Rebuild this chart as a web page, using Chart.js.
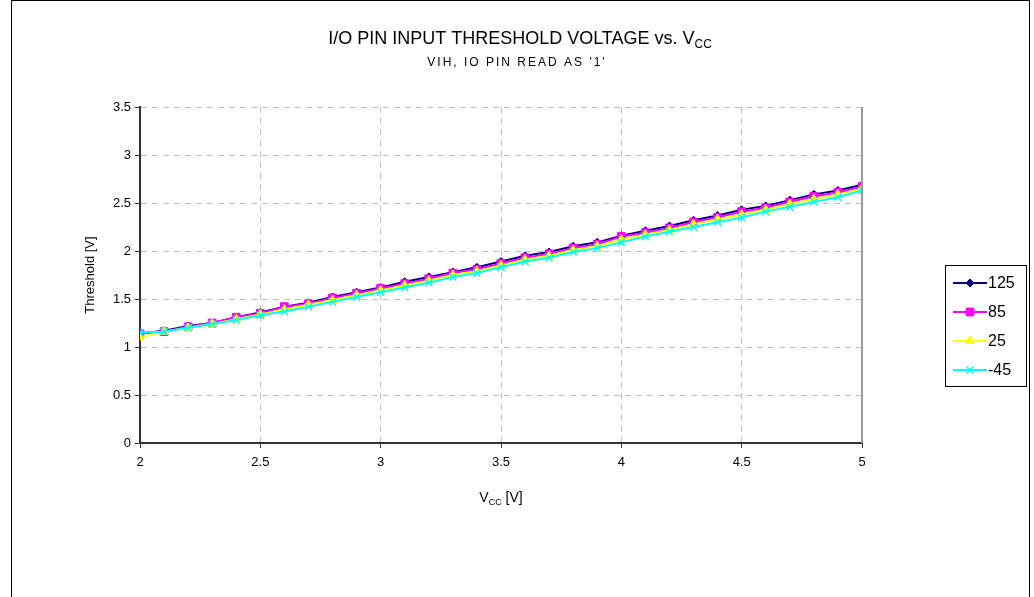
<!DOCTYPE html>
<html>
<head>
<meta charset="utf-8">
<script src="https://cdn.jsdelivr.net/npm/chart.js@4.4.0/dist/chart.umd.min.js"></script>
<style>
  body { margin: 0; background: #fff; }
  canvas { display: block; }
</style>
</head>
<body>
<canvas id="thresholdChart" width="1034" height="597"></canvas>
<script>
// Vcc sweep (V)
const vcc = [2.0, 2.1, 2.2, 2.3, 2.4, 2.5, 2.6, 2.7, 2.8, 2.9, 3.0, 3.1, 3.2, 3.3, 3.4, 3.5,
             3.6, 3.7, 3.8, 3.9, 4.0, 4.1, 4.2, 4.3, 4.4, 4.5, 4.6, 4.7, 4.8, 4.9, 5.0];

// threshold readings per temperature
const t125 = [1.14, 1.17, 1.22, 1.25, 1.31, 1.36, 1.42, 1.46, 1.52, 1.57, 1.62, 1.68, 1.73, 1.78, 1.83, 1.89,
              1.95, 1.99, 2.05, 2.09, 2.16, 2.21, 2.26, 2.32, 2.37, 2.43, 2.47, 2.53, 2.59, 2.63, 2.69];
const t85  = [1.14, 1.16, 1.21, 1.25, 1.31, 1.35, 1.42, 1.45, 1.51, 1.56, 1.61, 1.66, 1.71, 1.77, 1.81, 1.87,
              1.93, 1.97, 2.03, 2.07, 2.15, 2.19, 2.24, 2.30, 2.35, 2.41, 2.45, 2.51, 2.57, 2.61, 2.67];
const t25  = [1.10, 1.16, 1.20, 1.24, 1.29, 1.34, 1.39, 1.44, 1.49, 1.54, 1.59, 1.64, 1.69, 1.75, 1.79, 1.85,
              1.91, 1.95, 2.01, 2.05, 2.12, 2.17, 2.22, 2.28, 2.33, 2.38, 2.43, 2.49, 2.54, 2.59, 2.65];
const tm45 = [1.15, 1.16, 1.20, 1.24, 1.28, 1.33, 1.37, 1.42, 1.47, 1.52, 1.57, 1.62, 1.67, 1.73, 1.77, 1.83,
              1.89, 1.93, 1.99, 2.03, 2.09, 2.15, 2.20, 2.25, 2.30, 2.35, 2.41, 2.46, 2.51, 2.56, 2.63];

const seriesLabels = ['125', '85', '25', '-45'];
const xTicks = [2, 2.5, 3, 3.5, 4, 4.5, 5];
const yTicks = [0, 0.5, 1, 1.5, 2, 2.5, 3, 3.5];

const FONT = "'Liberation Sans', Arial, sans-serif";

function pts(vals) {
  return vcc.map((v, i) => ({ x: v, y: vals[i] }));
}

const datasets = [
  { label: seriesLabels[0], data: pts(t125), borderColor: '#000080', backgroundColor: '#000080',
    pointStyle: 'rectRot', pointRadius: 4, order: 4 },
  { label: seriesLabels[1], data: pts(t85), borderColor: '#ff00ff', backgroundColor: '#ff00ff',
    pointStyle: 'rect', pointRadius: 5.5, order: 3 },
  { label: seriesLabels[2], data: pts(t25), borderColor: '#ffff00', backgroundColor: '#ffff00',
    pointStyle: 'triangle', pointRadius: 5, order: 2 },
  { label: seriesLabels[3], data: pts(tm45), borderColor: '#00ffff', backgroundColor: '#00ffff',
    pointStyle: 'crossRot', pointRadius: 5, pointBorderWidth: 1.5, order: 1 }
];
datasets.forEach(d => {
  d.borderWidth = 2;
  d.fill = false;
  d.tension = 0;
  if (!d.pointBorderWidth) d.pointBorderWidth = 1;
});

// text with a subscript part, centred on cx
function subText(ctx, main, sub, tail, cx, y, size, subSize) {
  ctx.font = size + 'px ' + FONT;
  const w1 = ctx.measureText(main).width;
  const w3 = ctx.measureText(tail).width;
  ctx.font = subSize + 'px ' + FONT;
  const w2 = ctx.measureText(sub).width;
  let x = cx - (w1 + w2 + w3) / 2;
  ctx.textAlign = 'left';
  ctx.textBaseline = 'alphabetic';
  ctx.font = size + 'px ' + FONT;
  ctx.fillText(main, x, y);
  x += w1;
  ctx.font = subSize + 'px ' + FONT;
  ctx.fillText(sub, x, y + size * 0.22);
  x += w2;
  ctx.font = size + 'px ' + FONT;
  ctx.fillText(tail, x, y);
}

const extras = {
  id: 'extras',
  afterDraw(chart) {
    const ctx = chart.ctx;
    const a = chart.chartArea;
    ctx.save();

    // solid right edge of the plot
    ctx.strokeStyle = '#999';
    ctx.lineWidth = 2;
    ctx.beginPath();
    ctx.moveTo(a.right, a.top);
    ctx.lineTo(a.right, a.bottom);
    ctx.stroke();

    // outer frame
    ctx.strokeStyle = '#000';
    ctx.lineWidth = 1;
    ctx.strokeRect(11.5, 0.5, 1018, 610);

    ctx.fillStyle = '#000';
    subText(ctx, 'I/O PIN INPUT THRESHOLD VOLTAGE vs. V', 'CC', '', 520, 44, 18, 12);
    ctx.font = '12px ' + FONT;
    ctx.letterSpacing = '2px';
    ctx.textAlign = 'center';
    ctx.fillText("VIH, IO PIN READ AS '1'", 517, 66);
    ctx.letterSpacing = '0px';

    subText(ctx, 'V', 'CC', ' [V]', (a.left + a.right) / 2, 502, 14, 9);

    ctx.save();
    ctx.translate(90, (a.top + a.bottom) / 2);
    ctx.rotate(-Math.PI / 2);
    ctx.font = '13px ' + FONT;
    ctx.textAlign = 'center';
    ctx.textBaseline = 'middle';
    ctx.fillText('Threshold [V]', 0, 0);
    ctx.restore();

    // legend box
    ctx.strokeStyle = '#000';
    ctx.lineWidth = 1;
    ctx.strokeRect(945.5, 265.5, 81, 121);
    chart.data.datasets.forEach((d, i) => {
      const y = 283 + i * 29;
      ctx.strokeStyle = d.borderColor;
      ctx.lineWidth = 2;
      ctx.beginPath();
      ctx.moveTo(953, y);
      ctx.lineTo(987, y);
      ctx.stroke();
      ctx.fillStyle = d.backgroundColor;
      ctx.lineWidth = d.pointBorderWidth;
      Chart.helpers.drawPoint(ctx, {
        pointStyle: d.pointStyle, radius: d.pointRadius, rotation: 0, borderWidth: d.pointBorderWidth
      }, 970, y);
      ctx.fillStyle = '#000';
      ctx.font = '16px ' + FONT;
      ctx.textAlign = 'left';
      ctx.textBaseline = 'middle';
      ctx.fillText(d.label, 988, y + 1);
    });

    ctx.restore();
  }
};

new Chart(document.getElementById('thresholdChart'), {
  type: 'line',
  data: { datasets: datasets },
  plugins: [extras],
  options: {
    responsive: false,
    animation: false,
    layout: { padding: { top: 107, right: 172, bottom: 0, left: 0 } },
    plugins: {
      legend: { display: false },
      title: { display: false },
      tooltip: { enabled: false }
    },
    scales: {
      x: {
        type: 'linear',
        min: 2, max: 5,
        afterFit: s => { s.height = 154; },
        afterBuildTicks: s => { s.ticks = xTicks.map(v => ({ value: v })); },
        border: { color: '#333', width: 2, dash: [6, 5] },
        grid: { color: '#c0c0c0', lineWidth: 1, drawTicks: true, tickLength: 5,
                tickColor: '#333', tickWidth: 1, tickBorderDash: [] },
        ticks: { color: '#000', font: { family: FONT, size: 13 }, padding: 7, maxRotation: 0,
                 callback: v => String(v) }
      },
      y: {
        min: 0, max: 3.5,
        afterFit: s => { s.width = 140; },
        afterBuildTicks: s => { s.ticks = yTicks.map(v => ({ value: v })); },
        border: { color: '#333', width: 2, dash: [6, 5] },
        grid: { color: '#c0c0c0', lineWidth: 1, drawTicks: true, tickLength: 5,
                tickColor: '#333', tickWidth: 1, tickBorderDash: [] },
        ticks: { color: '#000', font: { family: FONT, size: 13 }, padding: 4,
                 callback: v => String(v) }
      }
    }
  }
});
</script>
</body>
</html>
